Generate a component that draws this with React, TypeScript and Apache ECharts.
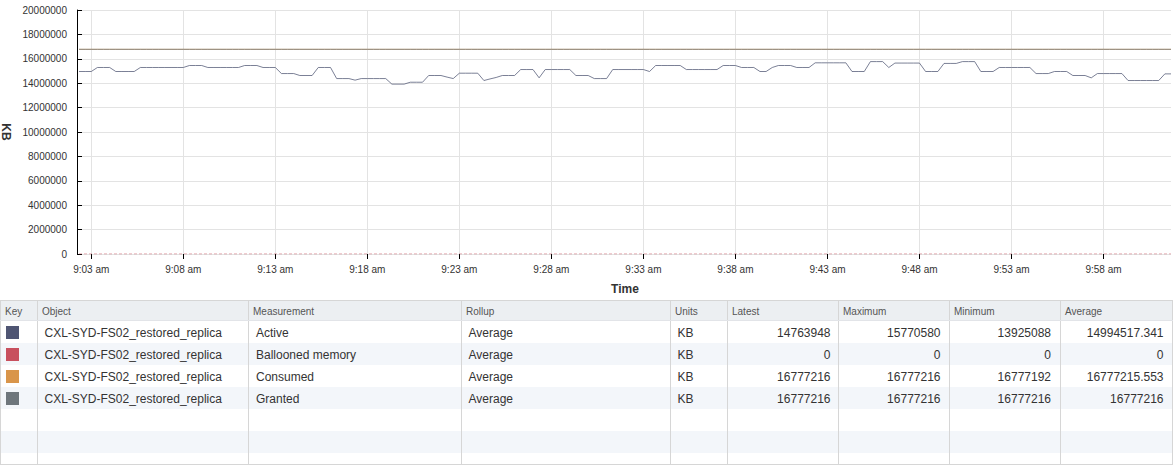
import React, { useEffect, useRef } from "react";
import * as echarts from "echarts";

// ---------- data ----------
const startSeconds = 9 * 3600 + 2 * 60 + 20; // first sample 9:02:20
const sampleStepSeconds = 20;
const sampleCount = 179;

const sampleTimes: string[] = [];
for (let i = 0; i < sampleCount; i++) {
  const t = startSeconds + i * sampleStepSeconds;
  const h = Math.floor(t / 3600);
  const m = Math.floor((t % 3600) / 60);
  const s = t % 60;
  const hh = h > 12 ? h - 12 : h;
  sampleTimes.push(`${hh}:${String(m).padStart(2, "0")}:${String(s).padStart(2, "0")}`);
}

const xTickLabels = [
  "9:03 am", "9:08 am", "9:13 am", "9:18 am", "9:23 am", "9:28 am",
  "9:33 am", "9:38 am", "9:43 am", "9:48 am", "9:53 am", "9:58 am",
];

const activeKB = [
  14958000, 14958000, 14958000, 15288000, 15288000, 15288000, 14958000, 14958000, 14958000, 14958000,
  15288000, 15288000, 15288000, 15288000, 15288000, 15288000, 15288000, 15288000, 15450000, 15450000,
  15450000, 15288000, 15288000, 15288000, 15288000, 15288000, 15288000, 15450000, 15450000, 15450000,
  15288000, 15288000, 15288000, 14790000, 14790000, 14790000, 14630000, 14630000, 14630000, 15288000,
  15288000, 15288000, 14380000, 14380000, 14380000, 14250000, 14380000, 14380000, 14380000, 14380000,
  14380000, 13925088, 13925088, 13925088, 14080000, 14080000, 14080000, 14630000, 14630000, 14630000,
  14500000, 14380000, 14820000, 14820000, 14820000, 14820000, 14220000, 14350000, 14470000, 14630000,
  14630000, 14630000, 15120000, 15120000, 15120000, 14440000, 15120000, 15120000, 15120000, 15120000,
  15120000, 14630000, 14630000, 14630000, 14380000, 14380000, 14380000, 15120000, 15120000, 15120000,
  15120000, 15120000, 15120000, 14958000, 15450000, 15450000, 15450000, 15450000, 15450000, 15120000,
  15120000, 15120000, 15120000, 15120000, 15120000, 15450000, 15450000, 15450000, 15288000, 15288000,
  15288000, 14958000, 14958000, 15288000, 15450000, 15450000, 15450000, 15288000, 15288000, 15288000,
  15670000, 15670000, 15670000, 15670000, 15670000, 15670000, 14958000, 14958000, 14958000, 15770580,
  15770580, 15770580, 15288000, 15650000, 15650000, 15650000, 15650000, 15650000, 14958000, 14958000,
  14958000, 15620000, 15620000, 15620000, 15770580, 15770580, 15770580, 14958000, 14958000, 14958000,
  15288000, 15288000, 15288000, 15288000, 15288000, 15288000, 14790000, 14790000, 14790000, 14958000,
  14958000, 14958000, 14630000, 14630000, 14630000, 14440000, 14790000, 14790000, 14790000, 14790000,
  14790000, 14220000, 14220000, 14220000, 14220000, 14220000, 14220000, 14763948, 14763948,
];

const balloonedKB = [
  0, 0, 0, 0, 0, 0, 0, 0, 0, 0, 0, 0, 0, 0, 0, 0, 0, 0, 0, 0,
  0, 0, 0, 0, 0, 0, 0, 0, 0, 0, 0, 0, 0, 0, 0, 0, 0, 0, 0, 0,
  0, 0, 0, 0, 0, 0, 0, 0, 0, 0, 0, 0, 0, 0, 0, 0, 0, 0, 0, 0,
  0, 0, 0, 0, 0, 0, 0, 0, 0, 0, 0, 0, 0, 0, 0, 0, 0, 0, 0, 0,
  0, 0, 0, 0, 0, 0, 0, 0, 0, 0, 0, 0, 0, 0, 0, 0, 0, 0, 0, 0,
  0, 0, 0, 0, 0, 0, 0, 0, 0, 0, 0, 0, 0, 0, 0, 0, 0, 0, 0, 0,
  0, 0, 0, 0, 0, 0, 0, 0, 0, 0, 0, 0, 0, 0, 0, 0, 0, 0, 0, 0,
  0, 0, 0, 0, 0, 0, 0, 0, 0, 0, 0, 0, 0, 0, 0, 0, 0, 0, 0, 0,
  0, 0, 0, 0, 0, 0, 0, 0, 0, 0, 0, 0, 0, 0, 0, 0, 0, 0, 0,
];

const consumedKB = [
  16777216, 16777216, 16777216, 16777216, 16777216, 16777216, 16777216, 16777216, 16777216, 16777216,
  16777216, 16777216, 16777216, 16777216, 16777216, 16777216, 16777216, 16777216, 16777216, 16777216,
  16777216, 16777216, 16777216, 16777216, 16777216, 16777216, 16777216, 16777216, 16777216, 16777216,
  16777216, 16777216, 16777216, 16777216, 16777216, 16777216, 16777216, 16777216, 16777216, 16777216,
  16777192, 16777216, 16777216, 16777216, 16777216, 16777216, 16777216, 16777216, 16777216, 16777216,
  16777216, 16777216, 16777216, 16777216, 16777216, 16777216, 16777216, 16777216, 16777216, 16777216,
  16777216, 16777216, 16777216, 16777216, 16777216, 16777216, 16777216, 16777216, 16777216, 16777216,
  16777216, 16777216, 16777216, 16777216, 16777216, 16777216, 16777216, 16777216, 16777216, 16777216,
  16777216, 16777216, 16777216, 16777216, 16777216, 16777216, 16777216, 16777216, 16777216, 16777216,
  16777216, 16777216, 16777216, 16777216, 16777216, 16777192, 16777216, 16777216, 16777216, 16777216,
  16777216, 16777216, 16777216, 16777216, 16777216, 16777216, 16777216, 16777216, 16777216, 16777216,
  16777216, 16777216, 16777216, 16777216, 16777216, 16777216, 16777216, 16777216, 16777216, 16777216,
  16777208, 16777216, 16777216, 16777216, 16777216, 16777216, 16777216, 16777216, 16777216, 16777216,
  16777216, 16777216, 16777216, 16777216, 16777216, 16777216, 16777216, 16777216, 16777216, 16777216,
  16777216, 16777216, 16777216, 16777216, 16777216, 16777216, 16777216, 16777216, 16777216, 16777216,
  16777192, 16777216, 16777216, 16777216, 16777216, 16777216, 16777216, 16777216, 16777216, 16777216,
  16777216, 16777216, 16777216, 16777216, 16777216, 16777216, 16777216, 16777216, 16777216, 16777216,
  16777216, 16777216, 16777216, 16777216, 16777216, 16777216, 16777216, 16777216, 16777216,
];

const grantedKB = [
  16777216, 16777216, 16777216, 16777216, 16777216, 16777216, 16777216, 16777216, 16777216, 16777216,
  16777216, 16777216, 16777216, 16777216, 16777216, 16777216, 16777216, 16777216, 16777216, 16777216,
  16777216, 16777216, 16777216, 16777216, 16777216, 16777216, 16777216, 16777216, 16777216, 16777216,
  16777216, 16777216, 16777216, 16777216, 16777216, 16777216, 16777216, 16777216, 16777216, 16777216,
  16777216, 16777216, 16777216, 16777216, 16777216, 16777216, 16777216, 16777216, 16777216, 16777216,
  16777216, 16777216, 16777216, 16777216, 16777216, 16777216, 16777216, 16777216, 16777216, 16777216,
  16777216, 16777216, 16777216, 16777216, 16777216, 16777216, 16777216, 16777216, 16777216, 16777216,
  16777216, 16777216, 16777216, 16777216, 16777216, 16777216, 16777216, 16777216, 16777216, 16777216,
  16777216, 16777216, 16777216, 16777216, 16777216, 16777216, 16777216, 16777216, 16777216, 16777216,
  16777216, 16777216, 16777216, 16777216, 16777216, 16777216, 16777216, 16777216, 16777216, 16777216,
  16777216, 16777216, 16777216, 16777216, 16777216, 16777216, 16777216, 16777216, 16777216, 16777216,
  16777216, 16777216, 16777216, 16777216, 16777216, 16777216, 16777216, 16777216, 16777216, 16777216,
  16777216, 16777216, 16777216, 16777216, 16777216, 16777216, 16777216, 16777216, 16777216, 16777216,
  16777216, 16777216, 16777216, 16777216, 16777216, 16777216, 16777216, 16777216, 16777216, 16777216,
  16777216, 16777216, 16777216, 16777216, 16777216, 16777216, 16777216, 16777216, 16777216, 16777216,
  16777216, 16777216, 16777216, 16777216, 16777216, 16777216, 16777216, 16777216, 16777216, 16777216,
  16777216, 16777216, 16777216, 16777216, 16777216, 16777216, 16777216, 16777216, 16777216, 16777216,
  16777216, 16777216, 16777216, 16777216, 16777216, 16777216, 16777216, 16777216, 16777216,
];

// table
const tableHeaders = ["Key", "Object", "Measurement", "Rollup", "Units", "Latest", "Maximum", "Minimum", "Average"];
const measurements = ["Active", "Ballooned memory", "Consumed", "Granted"];
const objects = [
  "CXL-SYD-FS02_restored_replica",
  "CXL-SYD-FS02_restored_replica",
  "CXL-SYD-FS02_restored_replica",
  "CXL-SYD-FS02_restored_replica",
];
const rollups = ["Average", "Average", "Average", "Average"];
const units = ["KB", "KB", "KB", "KB"];
const latestValues = ["14763948", "0", "16777216", "16777216"];
const maximumValues = ["15770580", "0", "16777216", "16777216"];
const minimumValues = ["13925088", "0", "16777192", "16777216"];
const averageValues = ["14994517.341", "0", "16777215.553", "16777216"];
const keyColors = ["#4f5573", "#c8505e", "#d9954a", "#6e767c"];

// ---------- layout ----------
const FONT = "'Liberation Sans', Arial, sans-serif";
const W = 1174;
const H = 465;
const colEdges = [0.5, 37.5, 248.5, 461.5, 670.5, 727.5, 838.5, 949.5, 1060.5, 1172.5];
const tableTop = 300.5;
const headerBottom = 321;
const rowH = 22;
const tableBottom = 464.5;

function txt(text: string, x: number, y: number, size: number, color: string, align: string) {
  return {
    type: "text",
    silent: true,
    style: {
      text,
      x,
      y,
      fill: color,
      fontSize: size,
      fontFamily: FONT,
      textAlign: align,
      align,
      textVerticalAlign: "middle",
      verticalAlign: "middle",
    },
  };
}

function buildTable(): any[] {
  const els: any[] = [];
  els.push({ type: "rect", silent: true, shape: { x: 0, y: tableTop, width: 1173, height: headerBottom - tableTop }, style: { fill: "#eceff2" } });
  for (let r = 0; r < 6; r++) {
    els.push({
      type: "rect",
      silent: true,
      shape: { x: 0, y: headerBottom + r * rowH, width: 1173, height: rowH },
      style: { fill: r % 2 === 1 ? "#f3f6fa" : "#ffffff" },
    });
  }
  colEdges.forEach((x) => {
    els.push({ type: "line", silent: true, shape: { x1: x, y1: tableTop, x2: x, y2: tableBottom }, style: { stroke: "#d6d6d6", lineWidth: 1 } });
  });
  els.push({ type: "line", silent: true, shape: { x1: 0, y1: tableTop, x2: 1173, y2: tableTop }, style: { stroke: "#d6d6d6", lineWidth: 1 } });
  els.push({ type: "line", silent: true, shape: { x1: 0, y1: headerBottom - 0.5, x2: 1173, y2: headerBottom - 0.5 }, style: { stroke: "#e2e4e8", lineWidth: 1 } });
  els.push({ type: "line", silent: true, shape: { x1: 0, y1: tableBottom, x2: 1173, y2: tableBottom }, style: { stroke: "#d6d6d6", lineWidth: 1 } });

  tableHeaders.forEach((h, i) => {
    els.push(txt(h, colEdges[i] + 4.5, 311.5, 10, "#555555", "left"));
  });

  for (let r = 0; r < measurements.length; r++) {
    const cy = headerBottom + r * rowH + 11.5;
    els.push({
      type: "rect",
      silent: true,
      shape: { x: 6, y: cy - 6.5, width: 13, height: 13 },
      style: { fill: keyColors[r] },
    });
    els.push(txt(objects[r], colEdges[1] + 7, cy, 12, "#333333", "left"));
    els.push(txt(measurements[r], colEdges[2] + 7.5, cy, 12, "#333333", "left"));
    els.push(txt(rollups[r], colEdges[3] + 7, cy, 12, "#333333", "left"));
    els.push(txt(units[r], colEdges[4] + 7, cy, 12, "#333333", "left"));
    els.push(txt(latestValues[r], colEdges[6] - 8, cy, 12, "#333333", "right"));
    els.push(txt(maximumValues[r], colEdges[7] - 9, cy, 12, "#333333", "right"));
    els.push(txt(minimumValues[r], colEdges[8] - 9.5, cy, 12, "#333333", "right"));
    els.push(txt(averageValues[r], colEdges[9] - 9, cy, 12, "#333333", "right"));
  }
  return els;
}

const isTick = (_idx: number, value: string) => {
  const parts = value.split(":");
  if (parts[2] !== "00") return false;
  return xTickLabels.indexOf(`${parts[0]}:${parts[1]} am`) >= 0;
};

export default function App() {
  const ref = useRef<HTMLDivElement>(null);

  useEffect(() => {
    if (!ref.current) return;
    const chart = echarts.init(ref.current, undefined, { renderer: "svg" });
    const lineOpacity = 0.75;
    chart.setOption({
      animation: false,
      backgroundColor: "#ffffff",
      textStyle: { fontFamily: FONT },
      grid: { left: 79, right: 3, top: 10, height: 244, containLabel: false, outerBoundsMode: "none" },
      xAxis: {
        type: "category",
        data: sampleTimes,
        boundaryGap: false,
        name: "Time",
        nameLocation: "middle",
        nameGap: 29,
        nameTextStyle: { fontSize: 12, fontWeight: "bold", color: "#333333", fontFamily: FONT },
        axisLine: { show: false },
        axisTick: { show: true, interval: isTick, length: 5, lineStyle: { color: "#000000", width: 1 } },
        axisLabel: {
          interval: isTick,
          fontSize: 10,
          color: "#333333",
          fontFamily: FONT,
          margin: 10,
          formatter: (v: string) => {
            const p = v.split(":");
            return `${p[0]}:${p[1]} am`;
          },
        },
        splitLine: { show: true, interval: isTick, lineStyle: { color: "#e3e3e3", width: 1 } },
      },
      yAxis: {
        type: "value",
        min: 0,
        max: 20000000,
        interval: 2000000,
        offset: 2,
        name: "KB",
        nameLocation: "middle",
        nameRotate: -90,
        nameGap: 62,
        nameTextStyle: { fontSize: 12, fontWeight: "bold", color: "#333333", fontFamily: FONT },
        axisLine: { show: true, lineStyle: { color: "#000000", width: 1 } },
        axisTick: { show: true, inside: true, length: 5, lineStyle: { color: "#000000" } },
        axisLabel: {
          fontSize: 10,
          color: "#333333",
          fontFamily: FONT,
          margin: 10,
          formatter: (v: number) => String(v),
        },
        splitLine: { show: true, lineStyle: { color: "#e3e3e3", width: 1 } },
      },
      series: [
        {
          name: "Active",
          type: "line",
          data: activeKB,
          showSymbol: false,
          symbol: "none",
          lineStyle: { color: keyColors[0], width: 1, opacity: lineOpacity },
          z: 4,
        },
        {
          name: "Ballooned memory",
          type: "line",
          data: balloonedKB,
          showSymbol: false,
          symbol: "none",
          lineStyle: { color: keyColors[1], width: 1, opacity: 0.6, type: [3, 2] },
          z: 3,
        },
        {
          name: "Consumed",
          type: "line",
          data: consumedKB,
          showSymbol: false,
          symbol: "none",
          lineStyle: { color: keyColors[2], width: 1, opacity: lineOpacity },
          z: 2,
        },
        {
          name: "Granted",
          type: "line",
          data: grantedKB,
          showSymbol: false,
          symbol: "none",
          lineStyle: { color: keyColors[3], width: 1, opacity: lineOpacity },
          z: 3,
        },
      ],
      graphic: { elements: buildTable() },
    });
    return () => chart.dispose();
  }, []);

  return (
    <div
      ref={ref}
      style={{ position: "fixed", left: 0, top: 0, width: W, height: H, background: "#ffffff" }}
    />
  );
}
